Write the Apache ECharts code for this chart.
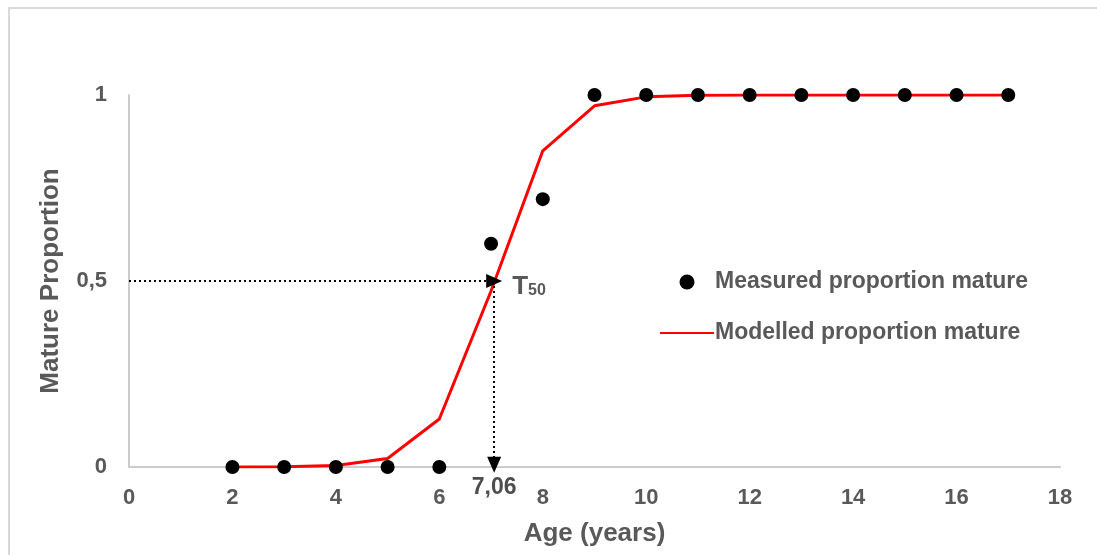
<!DOCTYPE html>
<html>
<head>
<meta charset="utf-8">
<script src="https://cdn.jsdelivr.net/npm/echarts@6/dist/echarts.min.js"></script>
<style>
  html, body { margin: 0; padding: 0; background: #fff; }
  #chart { width: 1097px; height: 555px; }
</style>
</head>
<body>
<div id="chart"></div>
<script>
// ages (years)
const ages = [2, 3, 4, 5, 6, 7, 8, 9, 10, 11, 12, 13, 14, 15, 16, 17]
const measured = [0, 0, 0, 0, 0, 0.6, 0.72, 1, 1, 1, 1, 1, 1, 1, 1, 1]
const modelled = [0, 0.001, 0.004, 0.023, 0.129, 0.473, 0.85, 0.971, 0.995, 0.999, 1, 1, 1, 1, 1, 1]
const t50 = 7.06
const xTicks = [0, 2, 4, 6, 8, 10, 12, 14, 16, 18]
const yTicks = [0, 0.5, 1]

const grey = '#595959'
const font = '"Liberation Sans", Arial, sans-serif'

const chart = echarts.init(document.getElementById('chart'))

const arrowLine = {
  silent: true,
  symbol: ['none', 'triangle'],
  symbolSize: [14, 16],
  label: { show: false },
  lineStyle: { color: '#000', type: [2, 3], width: 2 },
  emphasis: { disabled: true }
}

chart.setOption({
  animation: false,
  textStyle: { fontFamily: font },
  graphic: [{
    type: 'rect',
    shape: { x: 9, y: 8, width: 1200, height: 700 },
    style: { fill: 'none', stroke: '#d9d9d9', lineWidth: 2 },
    silent: true
  }],
  grid: { left: 129, right: 37, top: 95, bottom: 88 },
  legend: {
    orient: 'vertical',
    left: 654,
    top: 265,
    itemGap: 27,
    itemWidth: 54,
    itemHeight: 15,
    textStyle: { color: grey, fontSize: 23, lineHeight: 24, fontWeight: 'bold', fontFamily: font, padding: [0, 0, 0, -4] },
    data: [
      { name: 'Measured proportion mature', icon: 'circle', itemStyle: { color: '#000' } },
      { name: 'Modelled proportion mature', itemStyle: { opacity: 0 } }
    ]
  },
  xAxis: {
    type: 'value',
    min: 0,
    max: 18,
    interval: 2,
    name: 'Age (years)',
    nameLocation: 'middle',
    nameGap: 54,
    nameTextStyle: { color: grey, fontSize: 26, fontWeight: 'bold' },
    axisLine: { show: true, onZero: false, lineStyle: { color: '#cccccc', width: 2 } },
    axisTick: { show: false },
    splitLine: { show: false },
    axisLabel: {
      color: grey, fontSize: 22, fontWeight: 'bold', margin: 20,
      customValues: xTicks
    }
  },
  yAxis: {
    type: 'value',
    min: 0,
    max: 1,
    interval: 0.5,
    name: 'Mature Proportion',
    nameLocation: 'middle',
    nameGap: 65,
    nameTextStyle: { color: grey, fontSize: 26, fontWeight: 'bold' },
    axisLine: { show: true, lineStyle: { color: '#cccccc', width: 2 } },
    axisTick: { show: false },
    splitLine: { show: false },
    axisLabel: {
      color: grey, fontSize: 22, fontWeight: 'bold', margin: 22,
      customValues: yTicks,
      formatter: v => String(v).replace('.', ',')
    }
  },
  series: [
    {
      name: 'Modelled proportion mature',
      type: 'line',
      data: ages.map((a, i) => [a, modelled[i]]),
      showSymbol: false,
      symbol: 'none',
      lineStyle: { color: '#ff0000', width: 3 },
      itemStyle: { color: '#ff0000' },
      z: 3,
      markLine: Object.assign({}, arrowLine, {
        data: [
          [{ coord: [0, 0.5] }, { coord: [t50, 0.5] }],
          [{ coord: [t50, 0.5] }, { coord: [t50, 0.006] }]
        ]
      })
    },
    {
      name: 'Measured proportion mature',
      type: 'scatter',
      data: ages.map((a, i) => [a, measured[i]]),
      symbol: 'circle',
      symbolSize: 14,
      itemStyle: { color: '#000', opacity: 1 },
      z: 4,
      markPoint: {
        silent: true,
        symbol: 'circle',
        symbolSize: 0,
        data: [
          {
            coord: [t50, 0.5],
            label: {
              show: true,
              position: 'right',
              distance: 18,
              offset: [0, 6],
              formatter: '{t|T}{s|50}',
              rich: {
                t: { color: grey, fontSize: 26, fontWeight: 'bold', fontFamily: font },
                s: { color: grey, fontSize: 16, fontWeight: 'bold', fontFamily: font, padding: [8, 0, 0, 0] }
              }
            }
          },
          {
            coord: [t50, 0],
            label: {
              show: true,
              position: 'bottom',
              distance: 9,
              formatter: String(t50).replace('.', ','),
              color: '#4d4d4d',
              fontSize: 23,
              fontWeight: 'bold',
              fontFamily: font
            }
          }
        ]
      }
    }
  ]
})
</script>
</body>
</html>
